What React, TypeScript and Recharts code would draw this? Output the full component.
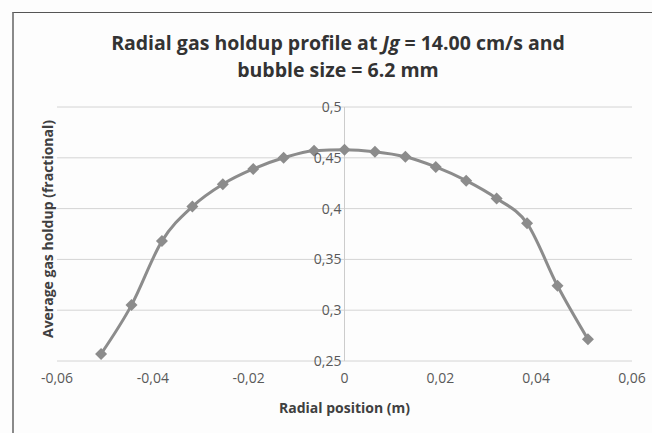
import React from "react";
import { LineChart, Line, XAxis, YAxis, CartesianGrid, ReferenceLine } from "recharts";

const radialPositions = [
  -0.0508, -0.04445, -0.0381, -0.03175, -0.0254, -0.01905, -0.0127, -0.00635, 0,
  0.00635, 0.0127, 0.01905, 0.0254, 0.03175, 0.0381, 0.04445, 0.0508,
];
const gasHoldup = [
  0.257, 0.305, 0.368, 0.402, 0.424, 0.439, 0.45, 0.457, 0.458,
  0.456, 0.451, 0.441, 0.4275, 0.41, 0.3855, 0.324, 0.2714,
];
const xTicks = [-0.06, -0.04, -0.02, 0, 0.02, 0.04, 0.06];
const yTicks = [0.25, 0.3, 0.35, 0.4, 0.45, 0.5];

const data = radialPositions.map((r, i) => ({ r, g: gasHoldup[i] }));

const W = 652;
const H = 433;
const PLOT_LEFT = 57;
const PLOT_RIGHT = 632;
const PLOT_TOP = 107;
const PLOT_BOTTOM = 361;
const Y_AXIS_W = 40;
const FONT = "'Open Sans', sans-serif";
const LINE = "#8c8c8c";

const fmt = (v: number) => String(Number(v.toFixed(4))).replace(".", ",");

const YTick = (props: any) => {
  const { y, payload } = props;
  const zeroX = (PLOT_LEFT + PLOT_RIGHT) / 2;
  return (
    <text x={zeroX - 3} y={y} dy={5} textAnchor="end" fontSize={14} fill="#595959" fontFamily={FONT}>
      {fmt(payload.value)}
    </text>
  );
};

const XTick = (props: any) => {
  const { x, y, payload } = props;
  return (
    <text x={x} y={y} dy={14} textAnchor="middle" fontSize={14} fill="#595959" fontFamily={FONT}>
      {fmt(payload.value)}
    </text>
  );
};

const Diamond = (props: any) => {
  const { cx, cy } = props;
  if (cx == null || cy == null) return null;
  const s = 6;
  return <path d={`M${cx},${cy - s}L${cx + s},${cy}L${cx},${cy + s}L${cx - s},${cy}Z`} fill={LINE} />;
};

export default function App() {
  return (
    <div style={{ position: "absolute", left: 0, top: 0, width: W, height: H, overflow: "hidden", background: "#fdfdfd", fontFamily: FONT }}>
      <div
        style={{
          position: "absolute",
          left: 12,
          top: 12,
          width: W - 12,
          height: H - 12,
          boxSizing: "border-box",
          borderLeft: "2px solid #8a8a8a",
          borderTop: "1px solid #555",
        }}
      />
      <div
        style={{
          position: "absolute",
          left: 0,
          top: 29,
          width: 676,
          textAlign: "center",
          fontSize: 19.5,
          fontWeight: 700,
          color: "#333",
          lineHeight: "27px",
        }}
      >
        Radial gas holdup profile at <i>Jg</i> = 14.00 cm/s and
        <br />
        bubble size = 6.2 mm
      </div>
      <div style={{ position: "absolute", left: 0, top: 0 }}>
        <LineChart
          width={W}
          height={H}
          data={data}
          margin={{ top: PLOT_TOP, right: W - PLOT_RIGHT, left: PLOT_LEFT - Y_AXIS_W, bottom: H - PLOT_BOTTOM - 30 }}
        >
          <CartesianGrid vertical={false} stroke="#d4d4d4" strokeWidth={1} />
          <XAxis
            type="number"
            dataKey="r"
            domain={[-0.06, 0.06]}
            ticks={xTicks}
            axisLine={false}
            tickLine={false}
            height={30}
            tick={(p: any) => <XTick {...p} />}
            interval={0}
          />
          <YAxis
            type="number"
            domain={[0.25, 0.5]}
            ticks={yTicks}
            width={Y_AXIS_W}
            axisLine={false}
            tickLine={false}
            tick={(p: any) => <YTick {...p} />}
            interval={0}
          />
          <ReferenceLine x={0} stroke="#cccccc" strokeWidth={1} />
          <Line
            type="monotone"
            dataKey="g"
            stroke={LINE}
            strokeWidth={3}
            dot={<Diamond />}
            activeDot={false}
            isAnimationActive={false}
          />
        </LineChart>
      </div>
      <div
        style={{
          position: "absolute",
          left: PLOT_LEFT,
          width: PLOT_RIGHT - PLOT_LEFT,
          top: 398,
          textAlign: "center",
          fontSize: 14,
          fontWeight: 700,
          color: "#404040",
        }}
      >
        Radial position (m)
      </div>
      <div
        style={{
          position: "absolute",
          left: 47,
          top: 229,
          transform: "translate(-50%, -50%) rotate(-90deg)",
          whiteSpace: "nowrap",
          fontSize: 14,
          fontWeight: 700,
          color: "#404040",
        }}
      >
        Average gas holdup (fractional)
      </div>
    </div>
  );
}
